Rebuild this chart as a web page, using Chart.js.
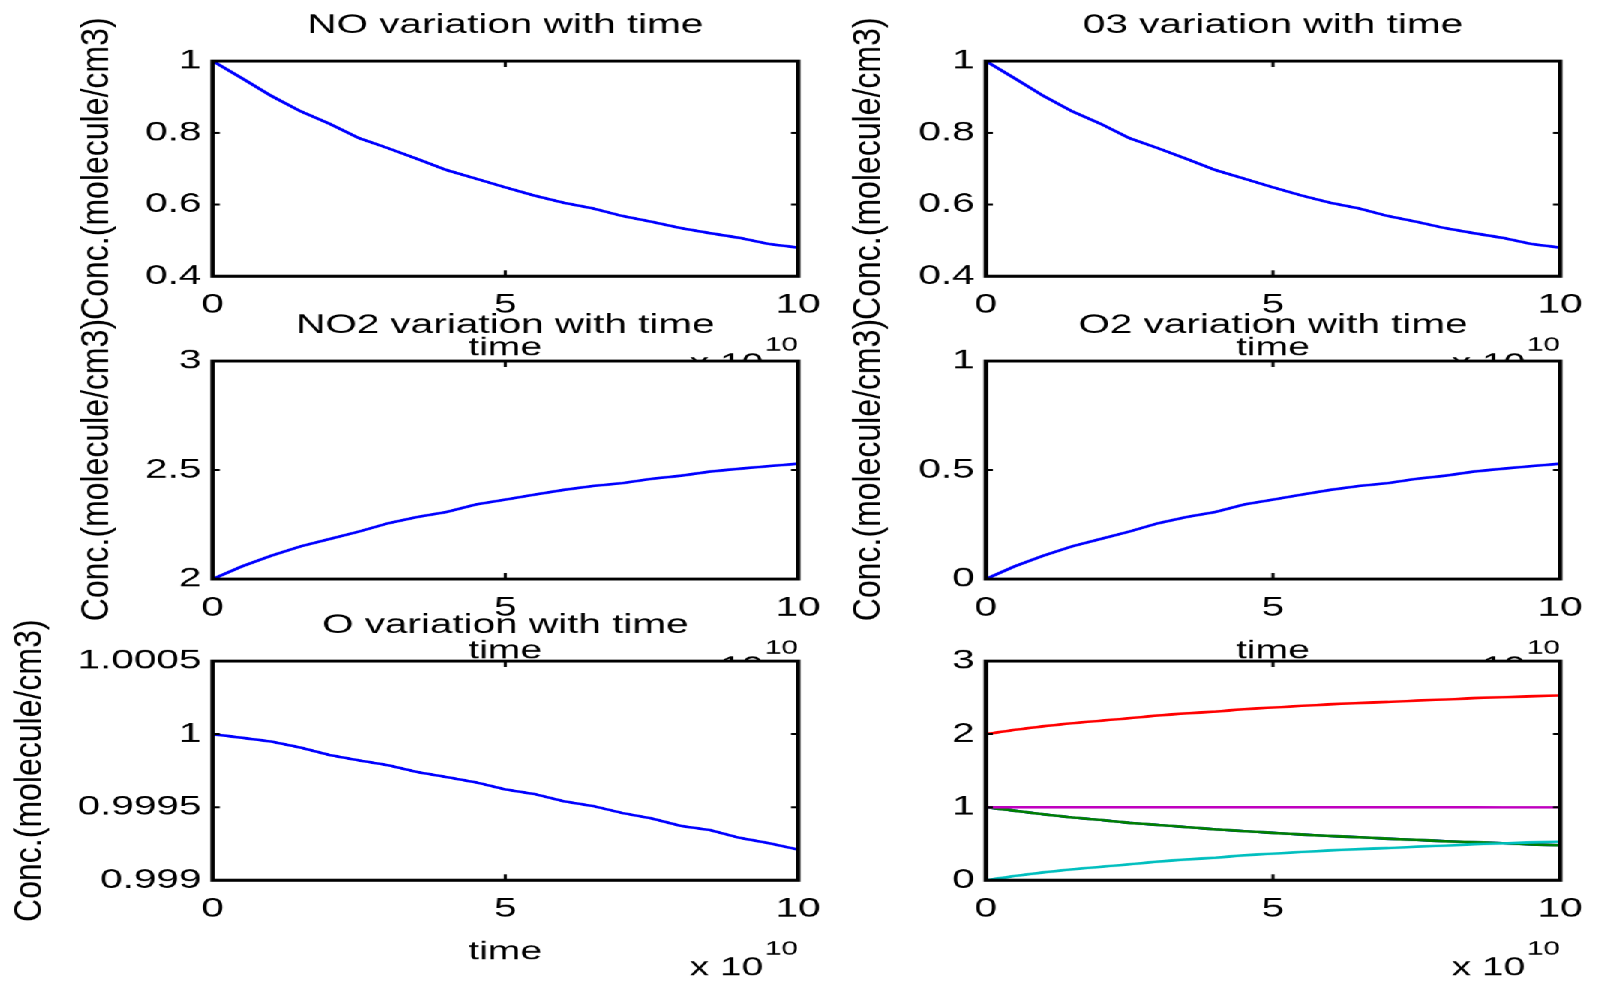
<!DOCTYPE html>
<html>
<head>
<meta charset="utf-8">
<title>Concentration variation with time</title>
<script src="https://cdn.jsdelivr.net/npm/chart.js@4.4.1/dist/chart.umd.min.js"></script>
<style>
  html, body { margin: 0; padding: 0; background: #fff; }
  body { width: 1602px; height: 984px; overflow: hidden; position: relative; }
  /* the source figure is stretched sideways: draw at 1068px wide, scale 1.5x in x */
  #figure {
    position: absolute; left: 0; top: 0;
    width: 1068px; height: 984px;
    transform: scaleX(1.5); transform-origin: 0 0;
  }
  #figure canvas { position: absolute; }
</style>
</head>
<body>
<div id="figure"></div>
<script>
// =========================
// DATA (time in units of 1e10)
// =========================
const time = [0, 0.5, 1, 1.5, 2, 2.5, 3, 3.5, 4, 4.5, 5, 5.5, 6, 6.5, 7, 7.5, 8, 8.5, 9, 9.5, 10];

const noConc = [1.000, 0.952, 0.903, 0.860, 0.825, 0.785, 0.757, 0.727, 0.696, 0.672, 0.648,
  0.625, 0.605, 0.589, 0.568, 0.552, 0.534, 0.520, 0.507, 0.490, 0.480];
const o3Conc = [1.000, 0.952, 0.903, 0.860, 0.825, 0.785, 0.757, 0.727, 0.696, 0.672, 0.648,
  0.625, 0.605, 0.589, 0.568, 0.552, 0.534, 0.520, 0.507, 0.490, 0.480];
const no2Conc = [2.000, 2.058, 2.107, 2.150, 2.184, 2.218, 2.256, 2.285, 2.308, 2.342, 2.364,
  2.387, 2.409, 2.427, 2.440, 2.460, 2.474, 2.493, 2.506, 2.518, 2.529];
const o2Conc = [0.000, 0.058, 0.107, 0.150, 0.184, 0.218, 0.256, 0.285, 0.308, 0.342, 0.364,
  0.387, 0.409, 0.427, 0.440, 0.460, 0.474, 0.493, 0.506, 0.518, 0.529];
const oConc = [1.000000, 0.999975, 0.999949, 0.999908, 0.999857, 0.999820, 0.999787, 0.999740,
  0.999706, 0.999670, 0.999622, 0.999590, 0.999541, 0.999508, 0.999460, 0.999423, 0.999372,
  0.999343, 0.999290, 0.999254, 0.999210];

// tick labels
const xTicks = [0, 5, 10];
const noTicks = [0.4, 0.6, 0.8, 1];
const o3Ticks = [0.4, 0.6, 0.8, 1];
const no2Ticks = [2, 2.5, 3];
const o2Ticks = [0, 0.5, 1];
const oTicks = [0.999, 0.9995, 1, 1.0005];
const allTicks = [0, 1, 2, 3];

const yLabel = "Conc.(molecule/cm3)";
const xLabel = "time";

// =========================
// LAYOUT (x in unstretched px, y in page px)
// =========================
const FONT = '"Liberation Sans", Arial, Helvetica, sans-serif';
const PLOT_TOP = [61, 361, 661];
const PLOT_H = [215, 218, 219];
const ABOVE = 60;   // room for the title
const BELOW = 104;  // room for ticks, xlabel and exponent
const COLS = [
  { canvasX: 0, width: 560, left: 141.7, right: 533.3 },
  { canvasX: 540, width: 528, left: 657.3, right: 1050 },
];

Chart.defaults.color = "#000";
Chart.defaults.font.family = FONT;

// MATLAB-like axes: white background, box, inward ticks, ylabel, x10^10
const matlabAxes = {
  id: "matlabAxes",
  beforeDraw(chart) {
    const { ctx, chartArea: a } = chart;
    ctx.save();
    ctx.fillStyle = "#fff";
    ctx.fillRect(a.left, a.top, a.right - a.left, a.bottom - a.top);
    ctx.restore();
  },
  afterDatasetsDraw(chart, args, opts) {
    const { ctx, chartArea: a } = chart;
    const xs = chart.scales.x;
    const ys = chart.scales.y;
    ctx.save();
    ctx.strokeStyle = "#000";
    ctx.lineWidth = 2;
    ctx.beginPath();
    ys.ticks.slice(1, -1).forEach((t) => {
      const py = ys.getPixelForValue(t.value);
      ctx.moveTo(a.left, py); ctx.lineTo(a.left + 4.7, py);
      ctx.moveTo(a.right, py); ctx.lineTo(a.right - 4.7, py);
    });
    xs.ticks.slice(1, -1).forEach((t) => {
      const px = xs.getPixelForValue(t.value);
      ctx.moveTo(px, a.bottom); ctx.lineTo(px, a.bottom - 6);
      ctx.moveTo(px, a.top); ctx.lineTo(px, a.top + 6);
    });
    ctx.stroke();
    ctx.lineWidth = 3;
    ctx.strokeRect(a.left, a.top, a.right - a.left, a.bottom - a.top);
    ctx.restore();
  },
  afterDraw(chart, args, opts) {
    const { ctx, chartArea: a } = chart;
    ctx.save();
    ctx.fillStyle = "#000";
    ctx.textBaseline = "middle";

    // exponent under the x axis
    ctx.textAlign = "right";
    ctx.font = "20px " + FONT;
    ctx.fillText("10", a.right, a.bottom + 69);
    const w = ctx.measureText("10").width;
    ctx.font = "26px " + FONT;
    ctx.fillText("x 10", a.right - w - 1, a.bottom + 88);

    if (opts.ylabel) {
      ctx.translate(opts.ylabelX, (a.top + a.bottom) / 2);
      ctx.scale(0.8, 1);
      ctx.rotate(-Math.PI / 2);
      ctx.textAlign = "center";
      ctx.font = "32px " + FONT;
      ctx.fillText(opts.ylabel, 0, 0);
    }
    ctx.restore();
  },
};

const panels = [
  { title: "NO variation with time", row: 0, col: 0, yTicks: noTicks, ylabelX: 64.7, xlabel: true,
    series: [{ data: noConc, color: "#0000ff" }] },
  { title: "03 variation with time", row: 0, col: 1, yTicks: o3Ticks, ylabelX: 39.7, xlabel: true,
    series: [{ data: o3Conc, color: "#0000ff" }] },
  { title: "NO2 variation with time", row: 1, col: 0, yTicks: no2Ticks, ylabelX: 64.7, xlabel: true,
    series: [{ data: no2Conc, color: "#0000ff" }] },
  { title: "O2 variation with time", row: 1, col: 1, yTicks: o2Ticks, ylabelX: 39.7, xlabel: true,
    series: [{ data: o2Conc, color: "#0000ff" }] },
  { title: "O variation with time", row: 2, col: 0, yTicks: oTicks, ylabelX: 20.4, xlabel: true,
    series: [{ data: oConc, color: "#0000ff" }] },
  // all species together; first dataset is drawn on top
  { title: "", row: 2, col: 1, yTicks: allTicks, ylabelX: null, xlabel: false,
    series: [
      { data: oConc, color: "#bf00bf" },
      { data: o2Conc, color: "#00bfbf" },
      { data: no2Conc, color: "#ff0000" },
      { data: o3Conc, color: "#008000" },
      { data: noConc, color: "#0000ff" },
    ] },
];

const figure = document.getElementById("figure");

function makePanel(p) {
  const col = COLS[p.col];
  const canvas = document.createElement("canvas");
  canvas.width = col.width;
  canvas.height = ABOVE + PLOT_H[p.row] + BELOW;
  canvas.style.left = col.canvasX + "px";
  canvas.style.top = PLOT_TOP[p.row] - ABOVE + "px";
  figure.appendChild(canvas);

  const yAxisWidth = col.left - col.canvasX;
  const padRight = col.canvasX + col.width - col.right;
  const hasTitle = p.title !== "";

  return new Chart(canvas, {
    type: "line",
    data: {
      datasets: p.series.map((s) => ({
        data: time.map((t, i) => ({ x: t, y: s.data[i] })),
        borderColor: s.color,
        borderWidth: 2.6,
        pointRadius: 0,
        tension: 0,
        fill: false,
      })),
    },
    options: {
      responsive: false,
      animation: false,
      devicePixelRatio: 1.5,
      events: [],
      layout: { padding: { left: 0, right: padRight, top: hasTitle ? 0 : ABOVE, bottom: 0 } },
      plugins: {
        legend: { display: false },
        tooltip: { enabled: false },
        title: {
          display: hasTitle,
          fullSize: false,
          text: p.title,
          color: "#000",
          font: { size: 27, weight: "normal" },
          padding: { top: 8.3, bottom: 19.3 },
        },
        matlabAxes: { ylabel: p.ylabelX === null ? null : yLabel, ylabelX: p.ylabelX },
      },
      scales: {
        x: {
          type: "linear",
          min: xTicks[0],
          max: xTicks[xTicks.length - 1],
          afterBuildTicks: (s) => { s.ticks = xTicks.map((v) => ({ value: v })); },
          afterFit: (s) => { s.height = BELOW; },
          grid: { display: false, drawTicks: false },
          border: { display: false },
          ticks: { font: { size: 27 }, padding: 12.8, maxRotation: 0, callback: (v) => String(v) },
          title: {
            display: p.xlabel,
            text: xLabel,
            font: { size: 26 },
            padding: { top: 0, bottom: 16.4 },
          },
        },
        y: {
          type: "linear",
          min: p.yTicks[0],
          max: p.yTicks[p.yTicks.length - 1],
          afterBuildTicks: (s) => { s.ticks = p.yTicks.map((v) => ({ value: v })); },
          afterFit: (s) => { s.width = yAxisWidth; },
          grid: { display: false, drawTicks: false },
          border: { display: false },
          ticks: { font: { size: 27 }, padding: 7.5, callback: (v) => String(v) },
        },
      },
    },
    plugins: [matlabAxes],
  });
}

panels.forEach(makePanel);
</script>
</body>
</html>
